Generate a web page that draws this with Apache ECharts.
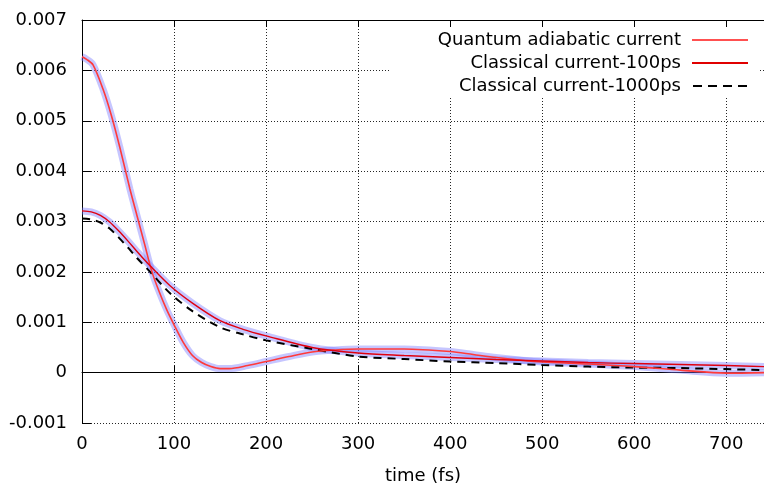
<!DOCTYPE html>
<html>
<head>
<meta charset="utf-8">
<script src="https://cdn.jsdelivr.net/npm/echarts@6/dist/echarts.min.js"></script>
<style>html,body{margin:0;padding:0;background:#fff}#c{width:764px;height:490px}</style>
</head>
<body>
<div id="c"></div>
<script>
const timeA = [0, 5, 12, 23, 32, 41, 52, 60, 68, 76, 84, 92, 100, 110, 120, 130, 140, 150, 160, 180, 200, 225, 250, 275, 300, 350, 400, 425, 450, 475, 500, 550, 600, 650, 700, 741];
const quantum = [6.27e-3, 6.22e-3, 6.11e-3, 5.62e-3, 5.10e-3, 4.48e-3, 3.65e-3, 3.10e-3, 2.55e-3, 2.00e-3, 1.60e-3, 1.25e-3, 0.95e-3, 0.60e-3, 0.34e-3, 0.20e-3, 0.12e-3, 0.08e-3, 0.08e-3, 0.14e-3, 0.22e-3, 0.32e-3, 0.41e-3, 0.45e-3, 0.47e-3, 0.47e-3, 0.42e-3, 0.36e-3, 0.30e-3, 0.25e-3, 0.21e-3, 0.17e-3, 0.12e-3, 0.05e-3, -0.01e-3, 0.0];
const timeB = [0, 10, 20, 30, 40, 50, 60, 74, 96, 120, 150, 175, 200, 250, 300, 350, 400, 450, 500, 550, 600, 650, 700, 741];
const classical100 = [3.21e-3, 3.19e-3, 3.12e-3, 2.99e-3, 2.81e-3, 2.61e-3, 2.40e-3, 2.12e-3, 1.72e-3, 1.38e-3, 1.03e-3, 0.86e-3, 0.73e-3, 0.50e-3, 0.39e-3, 0.34e-3, 0.30e-3, 0.26e-3, 0.23e-3, 0.20e-3, 0.18e-3, 0.16e-3, 0.14e-3, 0.12e-3];
const classical1000 = [3.06e-3, 3.04e-3, 2.98e-3, 2.86e-3, 2.68e-3, 2.48e-3, 2.27e-3, 2.00e-3, 1.57e-3, 1.22e-3, 0.90e-3, 0.76e-3, 0.64e-3, 0.47e-3, 0.32e-3, 0.27e-3, 0.22e-3, 0.19e-3, 0.15e-3, 0.12e-3, 0.10e-3, 0.09e-3, 0.07e-3, 0.05e-3];
const names = ['Quantum adiabatic current', 'Classical current-100ps', 'Classical current-1000ps'];

const pair = (t, v) => t.map((x, i) => [x, v[i]]);
const FONT = 'DejaVu Sans';
const FS = 18;
const grid = {type: [1, 2], color: '#000', width: 1, opacity: 0.85};
const band = 'rgba(120,120,255,0.42)';
const solidIcon = 'path://M0,0H56V2H0Z';
const dashIcon = 'path://M0,0H9V2H0Z M15,0H24V2H15Z M30,0H39V2H30Z M45,0H54V2H45Z';

const chart = echarts.init(document.getElementById('c'), null, {renderer: 'canvas'});
chart.setOption({
  animation: false,
  backgroundColor: '#fff',
  grid: {left: 82, right: 0, top: 20, bottom: 63},
  legend: {
    data: [
      {name: names[0], icon: solidIcon, itemStyle: {color: '#ff5050'}},
      {name: names[1], icon: solidIcon, itemStyle: {color: '#e00000'}},
      {name: names[2], icon: dashIcon, itemStyle: {color: '#000'}}
    ],
    orient: 'vertical',
    right: 6,
    top: 21,
    align: 'right',
    padding: [10, 10, 3, 48],
    itemGap: 5,
    itemWidth: 56,
    itemHeight: 2,
    backgroundColor: '#fff',
    textStyle: {fontFamily: FONT, fontSize: FS, color: '#000', padding: [0, 6, 0, 0], lineHeight: 18},
    z: 4
  },
  xAxis: [{
    type: 'value', min: 0, max: 741, interval: 100,
    name: 'time (fs)', nameLocation: 'middle', nameGap: 44,
    nameTextStyle: {fontFamily: FONT, fontSize: FS, color: '#000'},
    axisLine: {show: true, lineStyle: {color: '#000', width: 1}},
    axisTick: {show: true, inside: true, length: 7, lineStyle: {color: '#000'}},
    axisLabel: {fontFamily: FONT, fontSize: FS, color: '#000', margin: 12, showMaxLabel: false},
    splitLine: {show: true, lineStyle: grid}
  }, {
    type: 'value', position: 'top', min: 0, max: 741, interval: 100, z: 10,
    axisLine: {show: true, lineStyle: {color: '#000', width: 1}},
    axisTick: {show: true, inside: true, length: 7, lineStyle: {color: '#000'}},
    axisLabel: {show: false},
    splitLine: {show: false}
  }],
  yAxis: {
    type: 'value', min: -0.001, max: 0.007, interval: 0.001,
    axisLine: {show: true, lineStyle: {color: '#000', width: 1}},
    axisTick: {show: true, inside: true, length: 9, lineStyle: {color: '#000'}},
    axisLabel: {fontFamily: FONT, fontSize: FS, color: '#000', margin: 15,
      formatter: v => Math.abs(v) < 1e-12 ? '0' : v.toFixed(3)},
    splitLine: {show: true, lineStyle: grid}
  },
  series: [
    {name: 'bandQ', type: 'line', data: pair(timeA, quantum), smooth: 0.3, showSymbol: false, symbol: 'none', silent: true,
      lineStyle: {color: band, width: 7, cap: 'butt'}, z: 1},
    {name: 'band100', type: 'line', data: pair(timeB, classical100), smooth: 0.3, showSymbol: false, symbol: 'none', silent: true,
      lineStyle: {color: band, width: 7, cap: 'butt'}, z: 1},
    {name: names[2], type: 'line', data: pair(timeB, classical1000), smooth: 0.3, showSymbol: false, symbol: 'none',
      itemStyle: {color: '#000'}, lineStyle: {color: '#000', width: 2, type: [8, 6]}, z: 2},
    {name: names[0], type: 'line', data: pair(timeA, quantum), smooth: 0.3, showSymbol: false, symbol: 'none',
      itemStyle: {color: '#ff4a4a'}, lineStyle: {color: '#ff3a3a', width: 1.6}, z: 3},
    {name: names[1], type: 'line', data: pair(timeB, classical100), smooth: 0.3, showSymbol: false, symbol: 'none',
      itemStyle: {color: '#e00000'}, lineStyle: {color: '#e00010', width: 1.4}, z: 3}
  ]
});
</script>
</body>
</html>
